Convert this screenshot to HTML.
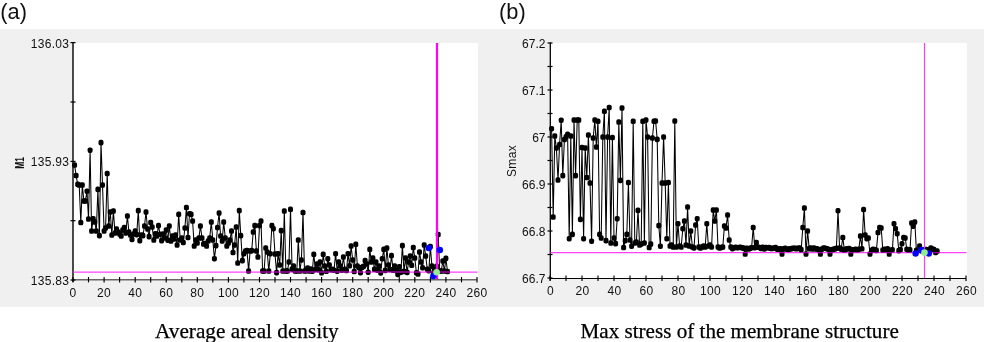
<!DOCTYPE html>
<html><head><meta charset="utf-8"><title>Figure</title>
<style>
html,body{margin:0;padding:0;background:#fff;}
body{width:984px;height:342px;position:relative;overflow:hidden;font-family:"Liberation Sans",sans-serif;}
.lbl{position:absolute;font-family:"Liberation Sans",sans-serif;font-size:21.8px;color:#111;line-height:1;white-space:nowrap;}
.cap{position:absolute;font-family:"Liberation Serif",serif;font-size:21.25px;color:#000;line-height:1;white-space:nowrap;-webkit-text-stroke:0.25px #000;}
</style></head><body>
<svg width="984" height="342" viewBox="0 0 984 342" style="position:absolute;left:0;top:0">
<rect x="0" y="29" width="984" height="278" fill="#f0f0f0"/>
<rect x="73" y="43" width="405" height="237" fill="#fff"/>
<rect x="550" y="43" width="417" height="236" fill="#fff"/>
<g font-family="Liberation Sans, sans-serif" font-size="12" fill="#111" letter-spacing="0.3">
<line x1="73" y1="279.8" x2="477" y2="279.8" stroke="#666" stroke-width="1.4"/>
<line x1="73.0" y1="277.0" x2="73.0" y2="282.4" stroke="#000" stroke-width="1.15"/><line x1="88.5" y1="277.0" x2="88.5" y2="282.4" stroke="#000" stroke-width="1.15"/><line x1="104.1" y1="277.0" x2="104.1" y2="282.4" stroke="#000" stroke-width="1.15"/><line x1="119.6" y1="277.0" x2="119.6" y2="282.4" stroke="#000" stroke-width="1.15"/><line x1="135.2" y1="277.0" x2="135.2" y2="282.4" stroke="#000" stroke-width="1.15"/><line x1="150.7" y1="277.0" x2="150.7" y2="282.4" stroke="#000" stroke-width="1.15"/><line x1="166.2" y1="277.0" x2="166.2" y2="282.4" stroke="#000" stroke-width="1.15"/><line x1="181.8" y1="277.0" x2="181.8" y2="282.4" stroke="#000" stroke-width="1.15"/><line x1="197.3" y1="277.0" x2="197.3" y2="282.4" stroke="#000" stroke-width="1.15"/><line x1="212.8" y1="277.0" x2="212.8" y2="282.4" stroke="#000" stroke-width="1.15"/><line x1="228.4" y1="277.0" x2="228.4" y2="282.4" stroke="#000" stroke-width="1.15"/><line x1="243.9" y1="277.0" x2="243.9" y2="282.4" stroke="#000" stroke-width="1.15"/><line x1="259.5" y1="277.0" x2="259.5" y2="282.4" stroke="#000" stroke-width="1.15"/><line x1="275.0" y1="277.0" x2="275.0" y2="282.4" stroke="#000" stroke-width="1.15"/><line x1="290.5" y1="277.0" x2="290.5" y2="282.4" stroke="#000" stroke-width="1.15"/><line x1="306.1" y1="277.0" x2="306.1" y2="282.4" stroke="#000" stroke-width="1.15"/><line x1="321.6" y1="277.0" x2="321.6" y2="282.4" stroke="#000" stroke-width="1.15"/><line x1="337.2" y1="277.0" x2="337.2" y2="282.4" stroke="#000" stroke-width="1.15"/><line x1="352.7" y1="277.0" x2="352.7" y2="282.4" stroke="#000" stroke-width="1.15"/><line x1="368.2" y1="277.0" x2="368.2" y2="282.4" stroke="#000" stroke-width="1.15"/><line x1="383.8" y1="277.0" x2="383.8" y2="282.4" stroke="#000" stroke-width="1.15"/><line x1="399.3" y1="277.0" x2="399.3" y2="282.4" stroke="#000" stroke-width="1.15"/><line x1="414.8" y1="277.0" x2="414.8" y2="282.4" stroke="#000" stroke-width="1.15"/><line x1="430.4" y1="277.0" x2="430.4" y2="282.4" stroke="#000" stroke-width="1.15"/><line x1="445.9" y1="277.0" x2="445.9" y2="282.4" stroke="#000" stroke-width="1.15"/><line x1="461.5" y1="277.0" x2="461.5" y2="282.4" stroke="#000" stroke-width="1.15"/><line x1="477.0" y1="277.0" x2="477.0" y2="282.4" stroke="#000" stroke-width="1.15"/>
<line x1="73" y1="42.5" x2="73" y2="282" stroke="#000" stroke-width="1.4"/>
<line x1="70.5" y1="42.6" x2="75.5" y2="42.6" stroke="#000" stroke-width="1.2"/>
<line x1="70.5" y1="102.0" x2="75.5" y2="102.0" stroke="#000" stroke-width="1.2"/>
<line x1="70.5" y1="161.4" x2="75.5" y2="161.4" stroke="#000" stroke-width="1.2"/>
<line x1="70.5" y1="220.7" x2="75.5" y2="220.7" stroke="#000" stroke-width="1.2"/>
<line x1="70.5" y1="280.0" x2="75.5" y2="280.0" stroke="#000" stroke-width="1.2"/>
<text x="73.0" y="297.0" text-anchor="middle">0</text><text x="104.1" y="297.0" text-anchor="middle">20</text><text x="135.2" y="297.0" text-anchor="middle">40</text><text x="166.2" y="297.0" text-anchor="middle">60</text><text x="197.3" y="297.0" text-anchor="middle">80</text><text x="228.4" y="297.0" text-anchor="middle">100</text><text x="259.5" y="297.0" text-anchor="middle">120</text><text x="290.5" y="297.0" text-anchor="middle">140</text><text x="321.6" y="297.0" text-anchor="middle">160</text><text x="352.7" y="297.0" text-anchor="middle">180</text><text x="383.8" y="297.0" text-anchor="middle">200</text><text x="414.8" y="297.0" text-anchor="middle">220</text><text x="445.9" y="297.0" text-anchor="middle">240</text><text x="477.0" y="297.0" text-anchor="middle">260</text>
<text x="69.3" y="48.2" text-anchor="end">136.03</text>
<text x="69.3" y="166.3" text-anchor="end">135.93</text>
<text x="69.3" y="284.6" text-anchor="end">135.83</text>
<text transform="translate(24,163) rotate(-90) scale(0.7,1)" text-anchor="middle" font-size="12" font-weight="bold" letter-spacing="0">M1</text>
<line x1="550" y1="278.5" x2="966" y2="278.5" stroke="#000" stroke-width="1.2"/>
<line x1="550.0" y1="275.5" x2="550.0" y2="280.9" stroke="#000" stroke-width="1.15"/><line x1="566.0" y1="275.5" x2="566.0" y2="280.9" stroke="#000" stroke-width="1.15"/><line x1="582.0" y1="275.5" x2="582.0" y2="280.9" stroke="#000" stroke-width="1.15"/><line x1="598.0" y1="275.5" x2="598.0" y2="280.9" stroke="#000" stroke-width="1.15"/><line x1="614.0" y1="275.5" x2="614.0" y2="280.9" stroke="#000" stroke-width="1.15"/><line x1="630.0" y1="275.5" x2="630.0" y2="280.9" stroke="#000" stroke-width="1.15"/><line x1="646.0" y1="275.5" x2="646.0" y2="280.9" stroke="#000" stroke-width="1.15"/><line x1="662.0" y1="275.5" x2="662.0" y2="280.9" stroke="#000" stroke-width="1.15"/><line x1="678.0" y1="275.5" x2="678.0" y2="280.9" stroke="#000" stroke-width="1.15"/><line x1="694.0" y1="275.5" x2="694.0" y2="280.9" stroke="#000" stroke-width="1.15"/><line x1="710.0" y1="275.5" x2="710.0" y2="280.9" stroke="#000" stroke-width="1.15"/><line x1="726.0" y1="275.5" x2="726.0" y2="280.9" stroke="#000" stroke-width="1.15"/><line x1="742.0" y1="275.5" x2="742.0" y2="280.9" stroke="#000" stroke-width="1.15"/><line x1="758.0" y1="275.5" x2="758.0" y2="280.9" stroke="#000" stroke-width="1.15"/><line x1="774.0" y1="275.5" x2="774.0" y2="280.9" stroke="#000" stroke-width="1.15"/><line x1="790.0" y1="275.5" x2="790.0" y2="280.9" stroke="#000" stroke-width="1.15"/><line x1="806.0" y1="275.5" x2="806.0" y2="280.9" stroke="#000" stroke-width="1.15"/><line x1="822.0" y1="275.5" x2="822.0" y2="280.9" stroke="#000" stroke-width="1.15"/><line x1="838.0" y1="275.5" x2="838.0" y2="280.9" stroke="#000" stroke-width="1.15"/><line x1="854.0" y1="275.5" x2="854.0" y2="280.9" stroke="#000" stroke-width="1.15"/><line x1="870.0" y1="275.5" x2="870.0" y2="280.9" stroke="#000" stroke-width="1.15"/><line x1="886.0" y1="275.5" x2="886.0" y2="280.9" stroke="#000" stroke-width="1.15"/><line x1="902.0" y1="275.5" x2="902.0" y2="280.9" stroke="#000" stroke-width="1.15"/><line x1="918.0" y1="275.5" x2="918.0" y2="280.9" stroke="#000" stroke-width="1.15"/><line x1="934.0" y1="275.5" x2="934.0" y2="280.9" stroke="#000" stroke-width="1.15"/><line x1="950.0" y1="275.5" x2="950.0" y2="280.9" stroke="#000" stroke-width="1.15"/><line x1="966.0" y1="275.5" x2="966.0" y2="280.9" stroke="#000" stroke-width="1.15"/>
<line x1="550.3" y1="42.5" x2="550.3" y2="280.5" stroke="#000" stroke-width="1.3"/>
<line x1="547.5" y1="43.0" x2="552.5" y2="43.0" stroke="#000" stroke-width="1.2"/>
<line x1="547.5" y1="66.5" x2="552.5" y2="66.5" stroke="#000" stroke-width="1.2"/>
<line x1="547.5" y1="90.0" x2="552.5" y2="90.0" stroke="#000" stroke-width="1.2"/>
<line x1="547.5" y1="113.5" x2="552.5" y2="113.5" stroke="#000" stroke-width="1.2"/>
<line x1="547.5" y1="137.0" x2="552.5" y2="137.0" stroke="#000" stroke-width="1.2"/>
<line x1="547.5" y1="160.5" x2="552.5" y2="160.5" stroke="#000" stroke-width="1.2"/>
<line x1="547.5" y1="184.0" x2="552.5" y2="184.0" stroke="#000" stroke-width="1.2"/>
<line x1="547.5" y1="207.5" x2="552.5" y2="207.5" stroke="#000" stroke-width="1.2"/>
<line x1="547.5" y1="231.0" x2="552.5" y2="231.0" stroke="#000" stroke-width="1.2"/>
<line x1="547.5" y1="254.5" x2="552.5" y2="254.5" stroke="#000" stroke-width="1.2"/>
<line x1="547.5" y1="278.0" x2="552.5" y2="278.0" stroke="#000" stroke-width="1.2"/>
<text x="550.4" y="294.9" text-anchor="middle">0</text><text x="582.4" y="294.9" text-anchor="middle">20</text><text x="614.4" y="294.9" text-anchor="middle">40</text><text x="646.4" y="294.9" text-anchor="middle">60</text><text x="678.4" y="294.9" text-anchor="middle">80</text><text x="710.4" y="294.9" text-anchor="middle">100</text><text x="742.4" y="294.9" text-anchor="middle">120</text><text x="774.4" y="294.9" text-anchor="middle">140</text><text x="806.4" y="294.9" text-anchor="middle">160</text><text x="838.4" y="294.9" text-anchor="middle">180</text><text x="870.4" y="294.9" text-anchor="middle">200</text><text x="902.4" y="294.9" text-anchor="middle">220</text><text x="934.4" y="294.9" text-anchor="middle">240</text><text x="966.4" y="294.9" text-anchor="middle">260</text>
<text x="545.6" y="48.2" text-anchor="end" letter-spacing="0.05">67.2</text>
<text x="545.6" y="95.2" text-anchor="end" letter-spacing="0.05">67.1</text>
<text x="545.6" y="142.2" text-anchor="end" letter-spacing="0.05">67</text>
<text x="545.6" y="189.2" text-anchor="end" letter-spacing="0.05">66.9</text>
<text x="545.6" y="236.2" text-anchor="end" letter-spacing="0.05">66.8</text>
<text x="545.6" y="283.2" text-anchor="end" letter-spacing="0.05">66.7</text>
<text transform="translate(516,161) rotate(-90)" text-anchor="middle">Smax</text>
</g>
<line x1="73.5" y1="272.1" x2="477.5" y2="272.1" stroke="#ff40ff" stroke-width="1.15"/>
<polyline fill="none" stroke="#000" stroke-width="1.05" stroke-linejoin="round" points="74.6,165.0 76.1,175.5 77.7,184.4 79.2,185.0 80.8,222.5 82.3,185.0 83.9,201.0 85.4,201.0 87.0,191.2 88.5,219.0 90.1,150.2 91.6,231.0 93.2,218.8 94.8,222.0 96.3,231.0 97.9,189.4 99.4,235.6 101.0,142.6 102.5,185.0 104.1,231.0 105.6,228.0 107.2,173.5 108.7,226.0 110.3,212.0 111.8,235.0 113.4,211.0 115.0,233.0 116.5,229.0 118.1,232.0 119.6,234.0 121.2,236.0 122.7,230.0 124.3,227.5 125.8,233.0 127.4,216.0 128.9,232.0 130.5,235.0 132.0,239.4 133.6,234.0 135.2,231.0 136.7,234.6 138.3,210.6 139.8,240.6 141.4,235.0 142.9,235.6 144.5,226.0 146.0,212.0 147.6,229.0 149.1,236.6 150.7,222.5 152.2,227.0 153.8,240.0 155.4,233.8 156.9,236.0 158.5,225.6 160.0,234.3 161.6,240.6 163.1,234.0 164.7,238.0 166.2,230.0 167.8,240.1 169.3,226.0 170.9,241.0 172.4,236.0 174.0,239.0 175.6,235.0 177.1,245.0 178.7,214.4 180.2,240.0 181.8,238.0 183.3,242.5 184.9,228.0 186.4,207.5 188.0,237.5 189.5,213.8 191.1,214.4 192.6,221.0 194.2,246.0 195.8,240.0 197.3,243.0 198.9,238.0 200.4,226.0 202.0,238.0 203.5,244.0 205.1,243.5 206.6,246.0 208.2,241.0 209.7,238.0 211.3,222.0 212.8,240.0 214.4,258.8 216.0,245.6 217.5,227.5 219.1,213.0 220.6,236.0 222.2,241.0 223.7,222.0 225.3,238.0 226.8,246.0 228.4,243.0 229.9,240.0 231.5,231.0 233.0,252.5 234.6,245.0 236.2,227.0 237.7,263.0 239.3,210.6 240.8,235.6 242.4,260.6 243.9,253.8 245.5,251.0 247.0,250.6 248.6,271.0 250.1,251.0 251.7,250.6 253.2,232.0 254.8,225.6 256.4,251.0 257.9,257.0 259.5,225.6 261.0,221.0 262.6,271.0 264.1,271.0 265.7,248.0 267.2,252.0 268.8,271.0 270.3,253.8 271.9,225.6 273.4,228.8 275.0,254.0 276.6,272.6 278.1,253.8 279.7,265.0 281.2,230.6 282.8,271.0 284.3,211.0 285.9,271.0 287.4,271.0 289.0,262.0 290.5,209.4 292.1,269.1 293.6,266.0 295.2,271.0 296.8,271.0 298.3,240.0 299.9,271.0 301.4,260.0 303.0,212.5 304.5,271.0 306.1,270.6 307.6,268.0 309.2,271.0 310.7,269.0 312.3,271.2 313.8,254.4 315.4,269.4 317.0,264.0 318.5,269.7 320.1,262.0 321.6,272.8 323.2,254.4 324.7,266.0 326.3,271.3 327.8,258.8 329.4,265.0 330.9,269.7 332.5,269.2 334.0,270.2 335.6,253.8 337.2,271.2 338.7,262.0 340.3,266.0 341.8,270.2 343.4,257.0 344.9,269.4 346.5,270.5 348.0,253.8 349.6,265.8 351.1,246.0 352.7,260.0 354.2,271.5 355.8,244.4 357.4,266.0 358.9,267.7 360.5,272.6 362.0,267.3 363.6,266.4 365.1,260.6 366.7,264.0 368.2,272.2 369.8,249.4 371.3,262.0 372.9,258.0 374.4,269.3 376.0,262.0 377.6,270.1 379.1,266.0 380.7,272.9 382.2,258.8 383.8,249.4 385.3,270.4 386.9,248.0 388.4,265.0 390.0,269.5 391.5,255.6 393.1,270.2 394.6,266.0 396.2,270.6 397.8,274.4 399.3,266.7 400.9,272.1 402.4,245.6 404.0,271.4 405.5,258.0 407.1,272.4 408.6,262.0 410.2,256.0 411.7,265.3 413.3,247.5 414.8,258.0 416.4,272.8 418.0,274.0 419.5,252.0 421.1,262.0 422.6,267.8 424.2,245.0 425.7,256.0 427.3,269.2 428.8,270.6 430.4,246.6 431.9,266.1 433.5,273.0 435.0,270.1 436.6,266.4 438.2,234.5 439.7,271.0 441.3,271.0 442.8,261.0 444.4,271.0 445.9,258.4 447.5,271.5"/>
<g fill="#000"><rect x="72.1" y="162.2" width="5" height="5.6" rx="1.9"/><rect x="73.6" y="172.7" width="5" height="5.6" rx="1.9"/><rect x="75.2" y="181.6" width="5" height="5.6" rx="1.9"/><rect x="76.7" y="182.2" width="5" height="5.6" rx="1.9"/><rect x="78.3" y="219.7" width="5" height="5.6" rx="1.9"/><rect x="79.8" y="182.2" width="5" height="5.6" rx="1.9"/><rect x="81.4" y="198.2" width="5" height="5.6" rx="1.9"/><rect x="82.9" y="198.2" width="5" height="5.6" rx="1.9"/><rect x="84.5" y="188.4" width="5" height="5.6" rx="1.9"/><rect x="86.0" y="216.2" width="5" height="5.6" rx="1.9"/><rect x="87.6" y="147.4" width="5" height="5.6" rx="1.9"/><rect x="89.1" y="228.2" width="5" height="5.6" rx="1.9"/><rect x="90.7" y="215.9" width="5" height="5.6" rx="1.9"/><rect x="92.3" y="219.2" width="5" height="5.6" rx="1.9"/><rect x="93.8" y="228.2" width="5" height="5.6" rx="1.9"/><rect x="95.4" y="186.6" width="5" height="5.6" rx="1.9"/><rect x="96.9" y="232.8" width="5" height="5.6" rx="1.9"/><rect x="98.5" y="139.8" width="5" height="5.6" rx="1.9"/><rect x="100.0" y="182.2" width="5" height="5.6" rx="1.9"/><rect x="101.6" y="228.2" width="5" height="5.6" rx="1.9"/><rect x="103.1" y="225.2" width="5" height="5.6" rx="1.9"/><rect x="104.7" y="170.7" width="5" height="5.6" rx="1.9"/><rect x="106.2" y="223.2" width="5" height="5.6" rx="1.9"/><rect x="107.8" y="209.2" width="5" height="5.6" rx="1.9"/><rect x="109.3" y="232.2" width="5" height="5.6" rx="1.9"/><rect x="110.9" y="208.2" width="5" height="5.6" rx="1.9"/><rect x="112.5" y="230.2" width="5" height="5.6" rx="1.9"/><rect x="114.0" y="226.2" width="5" height="5.6" rx="1.9"/><rect x="115.6" y="229.2" width="5" height="5.6" rx="1.9"/><rect x="117.1" y="231.2" width="5" height="5.6" rx="1.9"/><rect x="118.7" y="233.2" width="5" height="5.6" rx="1.9"/><rect x="120.2" y="227.2" width="5" height="5.6" rx="1.9"/><rect x="121.8" y="224.7" width="5" height="5.6" rx="1.9"/><rect x="123.3" y="230.2" width="5" height="5.6" rx="1.9"/><rect x="124.9" y="213.2" width="5" height="5.6" rx="1.9"/><rect x="126.4" y="229.2" width="5" height="5.6" rx="1.9"/><rect x="128.0" y="232.2" width="5" height="5.6" rx="1.9"/><rect x="129.5" y="236.6" width="5" height="5.6" rx="1.9"/><rect x="131.1" y="231.2" width="5" height="5.6" rx="1.9"/><rect x="132.7" y="228.2" width="5" height="5.6" rx="1.9"/><rect x="134.2" y="231.8" width="5" height="5.6" rx="1.9"/><rect x="135.8" y="207.8" width="5" height="5.6" rx="1.9"/><rect x="137.3" y="237.8" width="5" height="5.6" rx="1.9"/><rect x="138.9" y="232.2" width="5" height="5.6" rx="1.9"/><rect x="140.4" y="232.8" width="5" height="5.6" rx="1.9"/><rect x="142.0" y="223.2" width="5" height="5.6" rx="1.9"/><rect x="143.5" y="209.2" width="5" height="5.6" rx="1.9"/><rect x="145.1" y="226.2" width="5" height="5.6" rx="1.9"/><rect x="146.6" y="233.8" width="5" height="5.6" rx="1.9"/><rect x="148.2" y="219.7" width="5" height="5.6" rx="1.9"/><rect x="149.7" y="224.2" width="5" height="5.6" rx="1.9"/><rect x="151.3" y="237.2" width="5" height="5.6" rx="1.9"/><rect x="152.9" y="230.9" width="5" height="5.6" rx="1.9"/><rect x="154.4" y="233.2" width="5" height="5.6" rx="1.9"/><rect x="156.0" y="222.8" width="5" height="5.6" rx="1.9"/><rect x="157.5" y="231.5" width="5" height="5.6" rx="1.9"/><rect x="159.1" y="237.8" width="5" height="5.6" rx="1.9"/><rect x="160.6" y="231.2" width="5" height="5.6" rx="1.9"/><rect x="162.2" y="235.2" width="5" height="5.6" rx="1.9"/><rect x="163.7" y="227.2" width="5" height="5.6" rx="1.9"/><rect x="165.3" y="237.3" width="5" height="5.6" rx="1.9"/><rect x="166.8" y="223.2" width="5" height="5.6" rx="1.9"/><rect x="168.4" y="238.2" width="5" height="5.6" rx="1.9"/><rect x="169.9" y="233.2" width="5" height="5.6" rx="1.9"/><rect x="171.5" y="236.2" width="5" height="5.6" rx="1.9"/><rect x="173.1" y="232.2" width="5" height="5.6" rx="1.9"/><rect x="174.6" y="242.2" width="5" height="5.6" rx="1.9"/><rect x="176.2" y="211.6" width="5" height="5.6" rx="1.9"/><rect x="177.7" y="237.2" width="5" height="5.6" rx="1.9"/><rect x="179.3" y="235.2" width="5" height="5.6" rx="1.9"/><rect x="180.8" y="239.7" width="5" height="5.6" rx="1.9"/><rect x="182.4" y="225.2" width="5" height="5.6" rx="1.9"/><rect x="183.9" y="204.7" width="5" height="5.6" rx="1.9"/><rect x="185.5" y="234.7" width="5" height="5.6" rx="1.9"/><rect x="187.0" y="210.9" width="5" height="5.6" rx="1.9"/><rect x="188.6" y="211.6" width="5" height="5.6" rx="1.9"/><rect x="190.1" y="218.2" width="5" height="5.6" rx="1.9"/><rect x="191.7" y="243.2" width="5" height="5.6" rx="1.9"/><rect x="193.3" y="237.2" width="5" height="5.6" rx="1.9"/><rect x="194.8" y="240.2" width="5" height="5.6" rx="1.9"/><rect x="196.4" y="235.2" width="5" height="5.6" rx="1.9"/><rect x="197.9" y="223.2" width="5" height="5.6" rx="1.9"/><rect x="199.5" y="235.2" width="5" height="5.6" rx="1.9"/><rect x="201.0" y="241.2" width="5" height="5.6" rx="1.9"/><rect x="202.6" y="240.7" width="5" height="5.6" rx="1.9"/><rect x="204.1" y="243.2" width="5" height="5.6" rx="1.9"/><rect x="205.7" y="238.2" width="5" height="5.6" rx="1.9"/><rect x="207.2" y="235.2" width="5" height="5.6" rx="1.9"/><rect x="208.8" y="219.2" width="5" height="5.6" rx="1.9"/><rect x="210.3" y="237.2" width="5" height="5.6" rx="1.9"/><rect x="211.9" y="255.9" width="5" height="5.6" rx="1.9"/><rect x="213.5" y="242.8" width="5" height="5.6" rx="1.9"/><rect x="215.0" y="224.7" width="5" height="5.6" rx="1.9"/><rect x="216.6" y="210.2" width="5" height="5.6" rx="1.9"/><rect x="218.1" y="233.2" width="5" height="5.6" rx="1.9"/><rect x="219.7" y="238.2" width="5" height="5.6" rx="1.9"/><rect x="221.2" y="219.2" width="5" height="5.6" rx="1.9"/><rect x="222.8" y="235.2" width="5" height="5.6" rx="1.9"/><rect x="224.3" y="243.2" width="5" height="5.6" rx="1.9"/><rect x="225.9" y="240.2" width="5" height="5.6" rx="1.9"/><rect x="227.4" y="237.2" width="5" height="5.6" rx="1.9"/><rect x="229.0" y="228.2" width="5" height="5.6" rx="1.9"/><rect x="230.5" y="249.7" width="5" height="5.6" rx="1.9"/><rect x="232.1" y="242.2" width="5" height="5.6" rx="1.9"/><rect x="233.7" y="224.2" width="5" height="5.6" rx="1.9"/><rect x="235.2" y="260.2" width="5" height="5.6" rx="1.9"/><rect x="236.8" y="207.8" width="5" height="5.6" rx="1.9"/><rect x="238.3" y="232.8" width="5" height="5.6" rx="1.9"/><rect x="239.9" y="257.8" width="5" height="5.6" rx="1.9"/><rect x="241.4" y="250.9" width="5" height="5.6" rx="1.9"/><rect x="243.0" y="248.2" width="5" height="5.6" rx="1.9"/><rect x="244.5" y="247.8" width="5" height="5.6" rx="1.9"/><rect x="246.1" y="268.2" width="5" height="5.6" rx="1.9"/><rect x="247.6" y="248.2" width="5" height="5.6" rx="1.9"/><rect x="249.2" y="247.8" width="5" height="5.6" rx="1.9"/><rect x="250.7" y="229.2" width="5" height="5.6" rx="1.9"/><rect x="252.3" y="222.8" width="5" height="5.6" rx="1.9"/><rect x="253.9" y="248.2" width="5" height="5.6" rx="1.9"/><rect x="255.4" y="254.2" width="5" height="5.6" rx="1.9"/><rect x="257.0" y="222.8" width="5" height="5.6" rx="1.9"/><rect x="258.5" y="218.2" width="5" height="5.6" rx="1.9"/><rect x="260.1" y="268.2" width="5" height="5.6" rx="1.9"/><rect x="261.6" y="268.2" width="5" height="5.6" rx="1.9"/><rect x="263.2" y="245.2" width="5" height="5.6" rx="1.9"/><rect x="264.7" y="249.2" width="5" height="5.6" rx="1.9"/><rect x="266.3" y="268.2" width="5" height="5.6" rx="1.9"/><rect x="267.8" y="250.9" width="5" height="5.6" rx="1.9"/><rect x="269.4" y="222.8" width="5" height="5.6" rx="1.9"/><rect x="270.9" y="225.9" width="5" height="5.6" rx="1.9"/><rect x="272.5" y="251.2" width="5" height="5.6" rx="1.9"/><rect x="274.1" y="269.8" width="5" height="5.6" rx="1.9"/><rect x="275.6" y="250.9" width="5" height="5.6" rx="1.9"/><rect x="277.2" y="262.2" width="5" height="5.6" rx="1.9"/><rect x="278.7" y="227.8" width="5" height="5.6" rx="1.9"/><rect x="280.3" y="268.2" width="5" height="5.6" rx="1.9"/><rect x="281.8" y="208.2" width="5" height="5.6" rx="1.9"/><rect x="283.4" y="268.2" width="5" height="5.6" rx="1.9"/><rect x="284.9" y="268.2" width="5" height="5.6" rx="1.9"/><rect x="286.5" y="259.2" width="5" height="5.6" rx="1.9"/><rect x="288.0" y="206.6" width="5" height="5.6" rx="1.9"/><rect x="289.6" y="266.3" width="5" height="5.6" rx="1.9"/><rect x="291.1" y="263.2" width="5" height="5.6" rx="1.9"/><rect x="292.7" y="268.2" width="5" height="5.6" rx="1.9"/><rect x="294.3" y="268.2" width="5" height="5.6" rx="1.9"/><rect x="295.8" y="237.2" width="5" height="5.6" rx="1.9"/><rect x="297.4" y="268.2" width="5" height="5.6" rx="1.9"/><rect x="298.9" y="257.2" width="5" height="5.6" rx="1.9"/><rect x="300.5" y="209.7" width="5" height="5.6" rx="1.9"/><rect x="302.0" y="268.2" width="5" height="5.6" rx="1.9"/><rect x="303.6" y="267.8" width="5" height="5.6" rx="1.9"/><rect x="305.1" y="265.2" width="5" height="5.6" rx="1.9"/><rect x="306.7" y="268.2" width="5" height="5.6" rx="1.9"/><rect x="308.2" y="266.2" width="5" height="5.6" rx="1.9"/><rect x="309.8" y="268.4" width="5" height="5.6" rx="1.9"/><rect x="311.3" y="251.6" width="5" height="5.6" rx="1.9"/><rect x="312.9" y="266.6" width="5" height="5.6" rx="1.9"/><rect x="314.5" y="261.2" width="5" height="5.6" rx="1.9"/><rect x="316.0" y="266.9" width="5" height="5.6" rx="1.9"/><rect x="317.6" y="259.2" width="5" height="5.6" rx="1.9"/><rect x="319.1" y="270.0" width="5" height="5.6" rx="1.9"/><rect x="320.7" y="251.6" width="5" height="5.6" rx="1.9"/><rect x="322.2" y="263.2" width="5" height="5.6" rx="1.9"/><rect x="323.8" y="268.5" width="5" height="5.6" rx="1.9"/><rect x="325.3" y="255.9" width="5" height="5.6" rx="1.9"/><rect x="326.9" y="262.2" width="5" height="5.6" rx="1.9"/><rect x="328.4" y="266.9" width="5" height="5.6" rx="1.9"/><rect x="330.0" y="266.4" width="5" height="5.6" rx="1.9"/><rect x="331.5" y="267.4" width="5" height="5.6" rx="1.9"/><rect x="333.1" y="250.9" width="5" height="5.6" rx="1.9"/><rect x="334.7" y="268.4" width="5" height="5.6" rx="1.9"/><rect x="336.2" y="259.2" width="5" height="5.6" rx="1.9"/><rect x="337.8" y="263.2" width="5" height="5.6" rx="1.9"/><rect x="339.3" y="267.4" width="5" height="5.6" rx="1.9"/><rect x="340.9" y="254.2" width="5" height="5.6" rx="1.9"/><rect x="342.4" y="266.6" width="5" height="5.6" rx="1.9"/><rect x="344.0" y="267.7" width="5" height="5.6" rx="1.9"/><rect x="345.5" y="250.9" width="5" height="5.6" rx="1.9"/><rect x="347.1" y="263.0" width="5" height="5.6" rx="1.9"/><rect x="348.6" y="243.2" width="5" height="5.6" rx="1.9"/><rect x="350.2" y="257.2" width="5" height="5.6" rx="1.9"/><rect x="351.7" y="268.7" width="5" height="5.6" rx="1.9"/><rect x="353.3" y="241.6" width="5" height="5.6" rx="1.9"/><rect x="354.9" y="263.2" width="5" height="5.6" rx="1.9"/><rect x="356.4" y="264.9" width="5" height="5.6" rx="1.9"/><rect x="358.0" y="269.8" width="5" height="5.6" rx="1.9"/><rect x="359.5" y="264.5" width="5" height="5.6" rx="1.9"/><rect x="361.1" y="263.6" width="5" height="5.6" rx="1.9"/><rect x="362.6" y="257.8" width="5" height="5.6" rx="1.9"/><rect x="364.2" y="261.2" width="5" height="5.6" rx="1.9"/><rect x="365.7" y="269.4" width="5" height="5.6" rx="1.9"/><rect x="367.3" y="246.6" width="5" height="5.6" rx="1.9"/><rect x="368.8" y="259.2" width="5" height="5.6" rx="1.9"/><rect x="370.4" y="255.2" width="5" height="5.6" rx="1.9"/><rect x="371.9" y="266.5" width="5" height="5.6" rx="1.9"/><rect x="373.5" y="259.2" width="5" height="5.6" rx="1.9"/><rect x="375.1" y="267.3" width="5" height="5.6" rx="1.9"/><rect x="376.6" y="263.2" width="5" height="5.6" rx="1.9"/><rect x="378.2" y="270.1" width="5" height="5.6" rx="1.9"/><rect x="379.7" y="255.9" width="5" height="5.6" rx="1.9"/><rect x="381.3" y="246.6" width="5" height="5.6" rx="1.9"/><rect x="382.8" y="267.6" width="5" height="5.6" rx="1.9"/><rect x="384.4" y="245.2" width="5" height="5.6" rx="1.9"/><rect x="385.9" y="262.2" width="5" height="5.6" rx="1.9"/><rect x="387.5" y="266.7" width="5" height="5.6" rx="1.9"/><rect x="389.0" y="252.8" width="5" height="5.6" rx="1.9"/><rect x="390.6" y="267.4" width="5" height="5.6" rx="1.9"/><rect x="392.1" y="263.2" width="5" height="5.6" rx="1.9"/><rect x="393.7" y="267.8" width="5" height="5.6" rx="1.9"/><rect x="395.3" y="271.6" width="5" height="5.6" rx="1.9"/><rect x="396.8" y="263.9" width="5" height="5.6" rx="1.9"/><rect x="398.4" y="269.3" width="5" height="5.6" rx="1.9"/><rect x="399.9" y="242.8" width="5" height="5.6" rx="1.9"/><rect x="401.5" y="268.6" width="5" height="5.6" rx="1.9"/><rect x="403.0" y="255.2" width="5" height="5.6" rx="1.9"/><rect x="404.6" y="269.6" width="5" height="5.6" rx="1.9"/><rect x="406.1" y="259.2" width="5" height="5.6" rx="1.9"/><rect x="407.7" y="253.2" width="5" height="5.6" rx="1.9"/><rect x="409.2" y="262.5" width="5" height="5.6" rx="1.9"/><rect x="410.8" y="244.7" width="5" height="5.6" rx="1.9"/><rect x="412.3" y="255.2" width="5" height="5.6" rx="1.9"/><rect x="413.9" y="270.0" width="5" height="5.6" rx="1.9"/><rect x="415.5" y="271.2" width="5" height="5.6" rx="1.9"/><rect x="417.0" y="249.2" width="5" height="5.6" rx="1.9"/><rect x="418.6" y="259.2" width="5" height="5.6" rx="1.9"/><rect x="420.1" y="265.0" width="5" height="5.6" rx="1.9"/><rect x="421.7" y="242.2" width="5" height="5.6" rx="1.9"/><rect x="423.2" y="253.2" width="5" height="5.6" rx="1.9"/><rect x="424.8" y="266.4" width="5" height="5.6" rx="1.9"/><rect x="426.3" y="267.8" width="5" height="5.6" rx="1.9"/><rect x="427.9" y="243.8" width="5" height="5.6" rx="1.9"/><rect x="429.4" y="263.3" width="5" height="5.6" rx="1.9"/><rect x="431.0" y="270.2" width="5" height="5.6" rx="1.9"/><rect x="432.5" y="267.3" width="5" height="5.6" rx="1.9"/><rect x="434.1" y="263.6" width="5" height="5.6" rx="1.9"/><rect x="435.7" y="231.7" width="5" height="5.6" rx="1.9"/><rect x="437.2" y="268.2" width="5" height="5.6" rx="1.9"/><rect x="438.8" y="268.2" width="5" height="5.6" rx="1.9"/><rect x="440.3" y="258.2" width="5" height="5.6" rx="1.9"/><rect x="441.9" y="268.2" width="5" height="5.6" rx="1.9"/><rect x="443.4" y="255.6" width="5" height="5.6" rx="1.9"/><rect x="445.0" y="268.7" width="5" height="5.6" rx="1.9"/></g>
<line x1="437" y1="43" x2="437" y2="279" stroke="#ff00ff" stroke-width="2.2"/>
<line x1="73.5" y1="272" x2="477.5" y2="272" stroke="#a000a0" stroke-width="1.4" style="mix-blend-mode:lighten"/>
<circle cx="428.8" cy="248" r="3.3" fill="#0000ff"/><circle cx="439.8" cy="250" r="3.3" fill="#0000ff"/><circle cx="433.3" cy="276" r="3.2" fill="#0000ff"/><circle cx="436.6" cy="272.3" r="3.3" fill="#90ee90"/>
<line x1="550.5" y1="252.6" x2="966.5" y2="252.6" stroke="#ff40ff" stroke-width="1.2"/>
<polyline fill="none" stroke="#000" stroke-width="1.05" stroke-linejoin="round" points="551.6,128.7 553.2,217.0 554.8,136.0 556.4,148.0 558.0,180.0 559.6,144.5 561.2,120.2 562.8,175.6 564.4,139.5 566.0,136.8 567.6,134.3 569.2,238.8 570.8,136.0 572.4,234.4 574.0,120.0 575.6,175.6 577.2,120.0 578.8,120.0 580.4,219.4 582.0,147.5 583.6,238.8 585.2,148.0 586.8,177.5 588.4,135.0 590.0,183.0 591.6,241.2 593.2,138.0 594.8,120.0 596.4,147.0 598.0,121.2 599.6,234.4 601.2,238.0 602.8,137.0 604.4,111.2 606.0,240.6 607.6,137.0 609.2,107.5 610.8,243.0 612.4,137.5 614.0,238.0 615.6,243.6 617.2,218.8 618.8,122.0 620.4,180.4 622.0,108.0 623.6,247.5 625.2,240.6 626.8,234.4 628.4,182.5 630.0,240.0 631.6,246.2 633.2,121.2 634.8,243.0 636.4,242.0 638.0,210.4 639.6,245.0 641.2,244.0 642.8,121.2 644.4,243.0 646.0,120.0 647.6,137.0 649.2,247.5 650.8,244.0 652.4,138.0 654.0,121.2 655.6,121.0 657.2,139.4 658.8,225.6 660.4,246.2 662.0,183.0 663.6,137.0 665.2,183.0 666.8,238.8 668.4,182.5 670.0,246.0 671.6,245.0 673.2,247.0 674.8,121.0 676.4,247.0 678.0,223.8 679.6,246.0 681.2,247.0 682.8,228.8 684.4,221.0 686.0,245.0 687.6,207.0 689.2,246.0 690.8,231.0 692.4,247.0 694.0,247.9 695.6,225.0 697.2,218.8 698.8,247.0 700.4,248.0 702.0,247.0 703.6,246.0 705.2,247.0 706.8,223.8 708.4,246.0 710.0,245.0 711.6,247.0 713.2,210.0 714.8,221.0 716.4,210.0 718.0,247.0 719.6,248.0 721.2,247.5 722.8,247.0 724.4,226.0 726.0,228.0 727.6,215.0 729.2,240.0 730.8,247.0 732.4,248.7 734.0,247.8 735.6,247.2 737.2,247.7 738.8,247.5 740.4,247.2 742.0,247.8 743.6,248.1 745.2,254.0 746.8,248.4 748.4,249.0 750.0,248.4 751.6,247.8 753.2,227.5 754.8,247.6 756.4,242.5 758.0,247.3 759.6,247.5 761.2,248.5 762.8,247.2 764.4,248.9 766.0,247.6 767.6,247.8 769.2,247.6 770.8,248.4 772.4,248.5 774.0,248.0 775.6,247.6 777.2,249.1 778.8,249.3 780.4,248.7 782.0,254.0 783.6,248.9 785.2,248.4 786.8,249.2 788.4,249.4 790.0,248.9 791.6,248.6 793.2,248.3 794.8,248.4 796.4,248.6 798.0,248.4 799.6,248.0 801.2,249.6 802.8,227.5 804.4,208.0 806.0,254.0 807.6,231.0 809.2,248.6 810.8,248.0 812.4,249.0 814.0,248.0 815.6,248.9 817.2,248.9 818.8,249.7 820.4,254.0 822.0,249.1 823.6,248.0 825.2,248.3 826.8,248.7 828.4,249.2 830.0,254.0 831.6,249.9 833.2,249.2 834.8,249.0 836.4,248.3 838.0,210.8 839.6,248.0 841.2,249.1 842.8,237.5 844.4,250.1 846.0,249.1 847.6,248.8 849.2,248.5 850.8,254.0 852.4,249.7 854.0,249.7 855.6,249.2 857.2,249.7 858.8,249.4 860.4,236.0 862.0,248.8 863.6,209.5 865.2,235.0 866.8,238.8 868.4,238.0 870.0,254.0 871.6,250.4 873.2,249.2 874.8,249.9 876.4,250.4 878.0,232.5 879.6,227.5 881.2,228.0 882.8,250.1 884.4,249.2 886.0,249.9 887.6,248.8 889.2,254.0 890.8,250.4 892.4,249.7 894.0,223.8 895.6,228.8 897.2,233.8 898.8,250.6 900.4,249.5 902.0,243.8 903.6,237.5 905.2,238.0 906.8,249.3 908.4,250.0 910.0,249.9 911.6,223.0 913.2,226.2 914.8,222.0 916.4,250.3 918.0,250.2 919.6,246.0 921.2,250.6 922.8,250.6 924.4,249.5 926.0,249.6 927.6,249.9 929.2,250.8 930.8,248.0 932.4,249.0 934.0,249.6 935.6,252.5 937.2,251.0"/>
<g fill="#000"><rect x="549.1" y="125.9" width="5" height="5.6" rx="1.9"/><rect x="550.7" y="214.2" width="5" height="5.6" rx="1.9"/><rect x="552.3" y="133.2" width="5" height="5.6" rx="1.9"/><rect x="553.9" y="145.2" width="5" height="5.6" rx="1.9"/><rect x="555.5" y="177.2" width="5" height="5.6" rx="1.9"/><rect x="557.1" y="141.7" width="5" height="5.6" rx="1.9"/><rect x="558.7" y="117.4" width="5" height="5.6" rx="1.9"/><rect x="560.3" y="172.8" width="5" height="5.6" rx="1.9"/><rect x="561.9" y="136.7" width="5" height="5.6" rx="1.9"/><rect x="563.5" y="134.0" width="5" height="5.6" rx="1.9"/><rect x="565.1" y="131.5" width="5" height="5.6" rx="1.9"/><rect x="566.7" y="235.9" width="5" height="5.6" rx="1.9"/><rect x="568.3" y="133.2" width="5" height="5.6" rx="1.9"/><rect x="569.9" y="231.6" width="5" height="5.6" rx="1.9"/><rect x="571.5" y="117.2" width="5" height="5.6" rx="1.9"/><rect x="573.1" y="172.8" width="5" height="5.6" rx="1.9"/><rect x="574.7" y="117.2" width="5" height="5.6" rx="1.9"/><rect x="576.3" y="117.2" width="5" height="5.6" rx="1.9"/><rect x="577.9" y="216.6" width="5" height="5.6" rx="1.9"/><rect x="579.5" y="144.7" width="5" height="5.6" rx="1.9"/><rect x="581.1" y="235.9" width="5" height="5.6" rx="1.9"/><rect x="582.7" y="145.2" width="5" height="5.6" rx="1.9"/><rect x="584.3" y="174.7" width="5" height="5.6" rx="1.9"/><rect x="585.9" y="132.2" width="5" height="5.6" rx="1.9"/><rect x="587.5" y="180.2" width="5" height="5.6" rx="1.9"/><rect x="589.1" y="238.4" width="5" height="5.6" rx="1.9"/><rect x="590.7" y="135.2" width="5" height="5.6" rx="1.9"/><rect x="592.3" y="117.2" width="5" height="5.6" rx="1.9"/><rect x="593.9" y="144.2" width="5" height="5.6" rx="1.9"/><rect x="595.5" y="118.5" width="5" height="5.6" rx="1.9"/><rect x="597.1" y="231.6" width="5" height="5.6" rx="1.9"/><rect x="598.7" y="235.2" width="5" height="5.6" rx="1.9"/><rect x="600.3" y="134.2" width="5" height="5.6" rx="1.9"/><rect x="601.9" y="108.5" width="5" height="5.6" rx="1.9"/><rect x="603.5" y="237.8" width="5" height="5.6" rx="1.9"/><rect x="605.1" y="134.2" width="5" height="5.6" rx="1.9"/><rect x="606.7" y="104.7" width="5" height="5.6" rx="1.9"/><rect x="608.3" y="240.2" width="5" height="5.6" rx="1.9"/><rect x="609.9" y="134.7" width="5" height="5.6" rx="1.9"/><rect x="611.5" y="235.2" width="5" height="5.6" rx="1.9"/><rect x="613.1" y="240.8" width="5" height="5.6" rx="1.9"/><rect x="614.7" y="215.9" width="5" height="5.6" rx="1.9"/><rect x="616.3" y="119.2" width="5" height="5.6" rx="1.9"/><rect x="617.9" y="177.6" width="5" height="5.6" rx="1.9"/><rect x="619.5" y="105.2" width="5" height="5.6" rx="1.9"/><rect x="621.1" y="244.7" width="5" height="5.6" rx="1.9"/><rect x="622.7" y="237.8" width="5" height="5.6" rx="1.9"/><rect x="624.3" y="231.6" width="5" height="5.6" rx="1.9"/><rect x="625.9" y="179.7" width="5" height="5.6" rx="1.9"/><rect x="627.5" y="237.2" width="5" height="5.6" rx="1.9"/><rect x="629.1" y="243.4" width="5" height="5.6" rx="1.9"/><rect x="630.7" y="118.5" width="5" height="5.6" rx="1.9"/><rect x="632.3" y="240.2" width="5" height="5.6" rx="1.9"/><rect x="633.9" y="239.2" width="5" height="5.6" rx="1.9"/><rect x="635.5" y="207.6" width="5" height="5.6" rx="1.9"/><rect x="637.1" y="242.2" width="5" height="5.6" rx="1.9"/><rect x="638.7" y="241.2" width="5" height="5.6" rx="1.9"/><rect x="640.3" y="118.5" width="5" height="5.6" rx="1.9"/><rect x="641.9" y="240.2" width="5" height="5.6" rx="1.9"/><rect x="643.5" y="117.2" width="5" height="5.6" rx="1.9"/><rect x="645.1" y="134.2" width="5" height="5.6" rx="1.9"/><rect x="646.7" y="244.7" width="5" height="5.6" rx="1.9"/><rect x="648.3" y="241.2" width="5" height="5.6" rx="1.9"/><rect x="649.9" y="135.2" width="5" height="5.6" rx="1.9"/><rect x="651.5" y="118.5" width="5" height="5.6" rx="1.9"/><rect x="653.1" y="118.2" width="5" height="5.6" rx="1.9"/><rect x="654.7" y="136.6" width="5" height="5.6" rx="1.9"/><rect x="656.3" y="222.8" width="5" height="5.6" rx="1.9"/><rect x="657.9" y="243.4" width="5" height="5.6" rx="1.9"/><rect x="659.5" y="180.2" width="5" height="5.6" rx="1.9"/><rect x="661.1" y="134.2" width="5" height="5.6" rx="1.9"/><rect x="662.7" y="180.2" width="5" height="5.6" rx="1.9"/><rect x="664.3" y="235.9" width="5" height="5.6" rx="1.9"/><rect x="665.9" y="179.7" width="5" height="5.6" rx="1.9"/><rect x="667.5" y="243.2" width="5" height="5.6" rx="1.9"/><rect x="669.1" y="242.2" width="5" height="5.6" rx="1.9"/><rect x="670.7" y="244.2" width="5" height="5.6" rx="1.9"/><rect x="672.3" y="118.2" width="5" height="5.6" rx="1.9"/><rect x="673.9" y="244.2" width="5" height="5.6" rx="1.9"/><rect x="675.5" y="220.9" width="5" height="5.6" rx="1.9"/><rect x="677.1" y="243.2" width="5" height="5.6" rx="1.9"/><rect x="678.7" y="244.2" width="5" height="5.6" rx="1.9"/><rect x="680.3" y="225.9" width="5" height="5.6" rx="1.9"/><rect x="681.9" y="218.2" width="5" height="5.6" rx="1.9"/><rect x="683.5" y="242.2" width="5" height="5.6" rx="1.9"/><rect x="685.1" y="204.2" width="5" height="5.6" rx="1.9"/><rect x="686.7" y="243.2" width="5" height="5.6" rx="1.9"/><rect x="688.3" y="228.2" width="5" height="5.6" rx="1.9"/><rect x="689.9" y="244.2" width="5" height="5.6" rx="1.9"/><rect x="691.5" y="245.1" width="5" height="5.6" rx="1.9"/><rect x="693.1" y="222.2" width="5" height="5.6" rx="1.9"/><rect x="694.7" y="215.9" width="5" height="5.6" rx="1.9"/><rect x="696.3" y="244.2" width="5" height="5.6" rx="1.9"/><rect x="697.9" y="245.2" width="5" height="5.6" rx="1.9"/><rect x="699.5" y="244.2" width="5" height="5.6" rx="1.9"/><rect x="701.1" y="243.2" width="5" height="5.6" rx="1.9"/><rect x="702.7" y="244.2" width="5" height="5.6" rx="1.9"/><rect x="704.3" y="220.9" width="5" height="5.6" rx="1.9"/><rect x="705.9" y="243.2" width="5" height="5.6" rx="1.9"/><rect x="707.5" y="242.2" width="5" height="5.6" rx="1.9"/><rect x="709.1" y="244.2" width="5" height="5.6" rx="1.9"/><rect x="710.7" y="207.2" width="5" height="5.6" rx="1.9"/><rect x="712.3" y="218.2" width="5" height="5.6" rx="1.9"/><rect x="713.9" y="207.2" width="5" height="5.6" rx="1.9"/><rect x="715.5" y="244.2" width="5" height="5.6" rx="1.9"/><rect x="717.1" y="245.2" width="5" height="5.6" rx="1.9"/><rect x="718.7" y="244.7" width="5" height="5.6" rx="1.9"/><rect x="720.3" y="244.2" width="5" height="5.6" rx="1.9"/><rect x="721.9" y="223.2" width="5" height="5.6" rx="1.9"/><rect x="723.5" y="225.2" width="5" height="5.6" rx="1.9"/><rect x="725.1" y="212.2" width="5" height="5.6" rx="1.9"/><rect x="726.7" y="237.2" width="5" height="5.6" rx="1.9"/><rect x="728.3" y="244.2" width="5" height="5.6" rx="1.9"/><rect x="729.9" y="245.9" width="5" height="5.6" rx="1.9"/><rect x="731.5" y="245.0" width="5" height="5.6" rx="1.9"/><rect x="733.1" y="244.4" width="5" height="5.6" rx="1.9"/><rect x="734.7" y="244.9" width="5" height="5.6" rx="1.9"/><rect x="736.3" y="244.7" width="5" height="5.6" rx="1.9"/><rect x="737.9" y="244.4" width="5" height="5.6" rx="1.9"/><rect x="739.5" y="245.0" width="5" height="5.6" rx="1.9"/><rect x="741.1" y="245.3" width="5" height="5.6" rx="1.9"/><rect x="742.7" y="251.2" width="5" height="5.6" rx="1.9"/><rect x="744.3" y="245.6" width="5" height="5.6" rx="1.9"/><rect x="745.9" y="246.2" width="5" height="5.6" rx="1.9"/><rect x="747.5" y="245.6" width="5" height="5.6" rx="1.9"/><rect x="749.1" y="245.0" width="5" height="5.6" rx="1.9"/><rect x="750.7" y="224.7" width="5" height="5.6" rx="1.9"/><rect x="752.3" y="244.8" width="5" height="5.6" rx="1.9"/><rect x="753.9" y="239.7" width="5" height="5.6" rx="1.9"/><rect x="755.5" y="244.5" width="5" height="5.6" rx="1.9"/><rect x="757.1" y="244.7" width="5" height="5.6" rx="1.9"/><rect x="758.7" y="245.7" width="5" height="5.6" rx="1.9"/><rect x="760.3" y="244.4" width="5" height="5.6" rx="1.9"/><rect x="761.9" y="246.1" width="5" height="5.6" rx="1.9"/><rect x="763.5" y="244.8" width="5" height="5.6" rx="1.9"/><rect x="765.1" y="245.0" width="5" height="5.6" rx="1.9"/><rect x="766.7" y="244.8" width="5" height="5.6" rx="1.9"/><rect x="768.3" y="245.6" width="5" height="5.6" rx="1.9"/><rect x="769.9" y="245.7" width="5" height="5.6" rx="1.9"/><rect x="771.5" y="245.2" width="5" height="5.6" rx="1.9"/><rect x="773.1" y="244.8" width="5" height="5.6" rx="1.9"/><rect x="774.7" y="246.3" width="5" height="5.6" rx="1.9"/><rect x="776.3" y="246.5" width="5" height="5.6" rx="1.9"/><rect x="777.9" y="245.9" width="5" height="5.6" rx="1.9"/><rect x="779.5" y="251.2" width="5" height="5.6" rx="1.9"/><rect x="781.1" y="246.1" width="5" height="5.6" rx="1.9"/><rect x="782.7" y="245.6" width="5" height="5.6" rx="1.9"/><rect x="784.3" y="246.4" width="5" height="5.6" rx="1.9"/><rect x="785.9" y="246.6" width="5" height="5.6" rx="1.9"/><rect x="787.5" y="246.1" width="5" height="5.6" rx="1.9"/><rect x="789.1" y="245.8" width="5" height="5.6" rx="1.9"/><rect x="790.7" y="245.5" width="5" height="5.6" rx="1.9"/><rect x="792.3" y="245.6" width="5" height="5.6" rx="1.9"/><rect x="793.9" y="245.8" width="5" height="5.6" rx="1.9"/><rect x="795.5" y="245.6" width="5" height="5.6" rx="1.9"/><rect x="797.1" y="245.2" width="5" height="5.6" rx="1.9"/><rect x="798.7" y="246.8" width="5" height="5.6" rx="1.9"/><rect x="800.3" y="224.7" width="5" height="5.6" rx="1.9"/><rect x="801.9" y="205.2" width="5" height="5.6" rx="1.9"/><rect x="803.5" y="251.2" width="5" height="5.6" rx="1.9"/><rect x="805.1" y="228.2" width="5" height="5.6" rx="1.9"/><rect x="806.7" y="245.8" width="5" height="5.6" rx="1.9"/><rect x="808.3" y="245.2" width="5" height="5.6" rx="1.9"/><rect x="809.9" y="246.2" width="5" height="5.6" rx="1.9"/><rect x="811.5" y="245.2" width="5" height="5.6" rx="1.9"/><rect x="813.1" y="246.1" width="5" height="5.6" rx="1.9"/><rect x="814.7" y="246.1" width="5" height="5.6" rx="1.9"/><rect x="816.3" y="246.9" width="5" height="5.6" rx="1.9"/><rect x="817.9" y="251.2" width="5" height="5.6" rx="1.9"/><rect x="819.5" y="246.3" width="5" height="5.6" rx="1.9"/><rect x="821.1" y="245.2" width="5" height="5.6" rx="1.9"/><rect x="822.7" y="245.5" width="5" height="5.6" rx="1.9"/><rect x="824.3" y="245.9" width="5" height="5.6" rx="1.9"/><rect x="825.9" y="246.4" width="5" height="5.6" rx="1.9"/><rect x="827.5" y="251.2" width="5" height="5.6" rx="1.9"/><rect x="829.1" y="247.1" width="5" height="5.6" rx="1.9"/><rect x="830.7" y="246.4" width="5" height="5.6" rx="1.9"/><rect x="832.3" y="246.2" width="5" height="5.6" rx="1.9"/><rect x="833.9" y="245.5" width="5" height="5.6" rx="1.9"/><rect x="835.5" y="207.9" width="5" height="5.6" rx="1.9"/><rect x="837.1" y="245.2" width="5" height="5.6" rx="1.9"/><rect x="838.7" y="246.3" width="5" height="5.6" rx="1.9"/><rect x="840.3" y="234.7" width="5" height="5.6" rx="1.9"/><rect x="841.9" y="247.3" width="5" height="5.6" rx="1.9"/><rect x="843.5" y="246.3" width="5" height="5.6" rx="1.9"/><rect x="845.1" y="246.0" width="5" height="5.6" rx="1.9"/><rect x="846.7" y="245.7" width="5" height="5.6" rx="1.9"/><rect x="848.3" y="251.2" width="5" height="5.6" rx="1.9"/><rect x="849.9" y="246.9" width="5" height="5.6" rx="1.9"/><rect x="851.5" y="246.9" width="5" height="5.6" rx="1.9"/><rect x="853.1" y="246.4" width="5" height="5.6" rx="1.9"/><rect x="854.7" y="246.9" width="5" height="5.6" rx="1.9"/><rect x="856.3" y="246.6" width="5" height="5.6" rx="1.9"/><rect x="857.9" y="233.2" width="5" height="5.6" rx="1.9"/><rect x="859.5" y="246.0" width="5" height="5.6" rx="1.9"/><rect x="861.1" y="206.7" width="5" height="5.6" rx="1.9"/><rect x="862.7" y="232.2" width="5" height="5.6" rx="1.9"/><rect x="864.3" y="235.9" width="5" height="5.6" rx="1.9"/><rect x="865.9" y="235.2" width="5" height="5.6" rx="1.9"/><rect x="867.5" y="251.2" width="5" height="5.6" rx="1.9"/><rect x="869.1" y="247.6" width="5" height="5.6" rx="1.9"/><rect x="870.7" y="246.4" width="5" height="5.6" rx="1.9"/><rect x="872.3" y="247.1" width="5" height="5.6" rx="1.9"/><rect x="873.9" y="247.6" width="5" height="5.6" rx="1.9"/><rect x="875.5" y="229.7" width="5" height="5.6" rx="1.9"/><rect x="877.1" y="224.7" width="5" height="5.6" rx="1.9"/><rect x="878.7" y="225.2" width="5" height="5.6" rx="1.9"/><rect x="880.3" y="247.3" width="5" height="5.6" rx="1.9"/><rect x="881.9" y="246.4" width="5" height="5.6" rx="1.9"/><rect x="883.5" y="247.1" width="5" height="5.6" rx="1.9"/><rect x="885.1" y="246.0" width="5" height="5.6" rx="1.9"/><rect x="886.7" y="251.2" width="5" height="5.6" rx="1.9"/><rect x="888.3" y="247.6" width="5" height="5.6" rx="1.9"/><rect x="889.9" y="246.9" width="5" height="5.6" rx="1.9"/><rect x="891.5" y="220.9" width="5" height="5.6" rx="1.9"/><rect x="893.1" y="225.9" width="5" height="5.6" rx="1.9"/><rect x="894.7" y="230.9" width="5" height="5.6" rx="1.9"/><rect x="896.3" y="247.8" width="5" height="5.6" rx="1.9"/><rect x="897.9" y="246.7" width="5" height="5.6" rx="1.9"/><rect x="899.5" y="240.9" width="5" height="5.6" rx="1.9"/><rect x="901.1" y="234.7" width="5" height="5.6" rx="1.9"/><rect x="902.7" y="235.2" width="5" height="5.6" rx="1.9"/><rect x="904.3" y="246.5" width="5" height="5.6" rx="1.9"/><rect x="905.9" y="247.2" width="5" height="5.6" rx="1.9"/><rect x="907.5" y="247.1" width="5" height="5.6" rx="1.9"/><rect x="909.1" y="220.2" width="5" height="5.6" rx="1.9"/><rect x="910.7" y="223.4" width="5" height="5.6" rx="1.9"/><rect x="912.3" y="219.2" width="5" height="5.6" rx="1.9"/><rect x="913.9" y="247.5" width="5" height="5.6" rx="1.9"/><rect x="915.5" y="247.4" width="5" height="5.6" rx="1.9"/><rect x="917.1" y="243.2" width="5" height="5.6" rx="1.9"/><rect x="918.7" y="247.8" width="5" height="5.6" rx="1.9"/><rect x="920.3" y="247.8" width="5" height="5.6" rx="1.9"/><rect x="921.9" y="246.7" width="5" height="5.6" rx="1.9"/><rect x="923.5" y="246.8" width="5" height="5.6" rx="1.9"/><rect x="925.1" y="247.1" width="5" height="5.6" rx="1.9"/><rect x="926.7" y="248.0" width="5" height="5.6" rx="1.9"/><rect x="928.3" y="245.2" width="5" height="5.6" rx="1.9"/><rect x="929.9" y="246.2" width="5" height="5.6" rx="1.9"/><rect x="931.5" y="246.8" width="5" height="5.6" rx="1.9"/><rect x="933.1" y="249.7" width="5" height="5.6" rx="1.9"/><rect x="934.7" y="248.2" width="5" height="5.6" rx="1.9"/></g>
<line x1="550.5" y1="252.6" x2="966.5" y2="252.6" stroke="#a000a0" stroke-width="1.4" style="mix-blend-mode:lighten"/>
<line x1="924.5" y1="43" x2="924.5" y2="278" stroke="#ff38ff" stroke-width="1.15"/>
<circle cx="915.6" cy="253.5" r="3.2" fill="#0000ff"/><circle cx="921.3" cy="250" r="3.2" fill="#0000ff"/><circle cx="928.8" cy="253.5" r="3.2" fill="#0000ff"/><circle cx="924.5" cy="252.6" r="3.3" fill="#90ee90"/>
</svg>
<div class="lbl" id="la" style="left:0.3px;top:0.6px;">(a)</div>
<div class="lbl" id="lb" style="left:499.1px;top:0.6px;">(b)</div>
<div class="cap" id="ca" style="left:155px;top:321px;">Average areal density</div>
<div class="cap" id="cb" style="left:580.5px;top:320.6px;font-size:21.12px;">Max stress of the membrane structure</div>
</body></html>
